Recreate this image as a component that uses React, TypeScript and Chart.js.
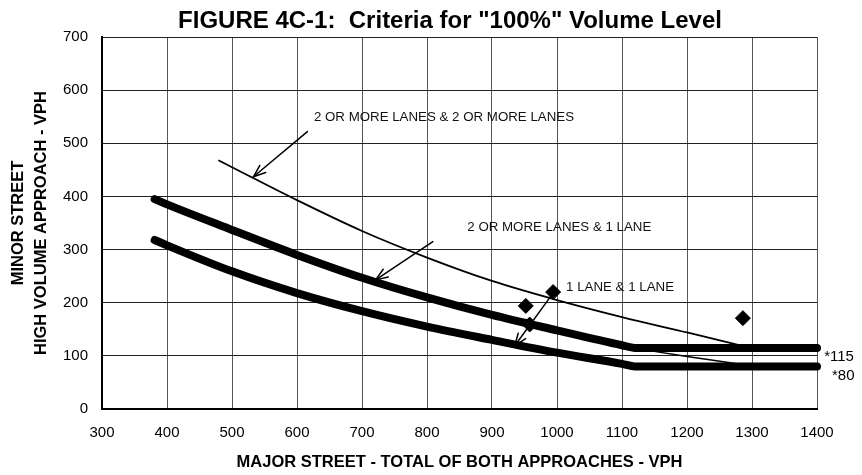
import React, { useEffect, useRef } from 'react';
import { Chart, registerables } from 'chart.js';

Chart.register(...registerables);

const FONT = '"Liberation Sans", Arial, Helvetica, sans-serif';

// Axis ranges / ticks
const xMin = 300;
const xMax = 1400;
const xStep = 100;
const yMin = 0;
const yMax = 700;
const yStep = 100;

// Thick curve: 2 OR MORE LANES & 1 LANE (lower threshold *115)
const upperX = [381, 400, 500, 600, 700, 800, 900, 1000, 1100, 1120, 1400];
const upperY = [395, 385, 337, 290, 247, 210, 177, 148, 120, 115, 115];

// Thick curve: 1 LANE & 1 LANE (lower threshold *80)
const lowerX = [381, 400, 500, 600, 700, 800, 900, 1000, 1100, 1120, 1400];
const lowerY = [318, 308, 259, 218, 184, 155, 130, 106, 85, 80, 80];

// Thin curve: 2 OR MORE LANES & 2 OR MORE LANES
const thinX = [479, 500, 600, 700, 800, 900, 1000, 1100, 1200, 1285];
const thinY = [468, 455, 393, 335, 285, 241, 205, 173, 144, 119];

// Thin continuation toward the 80 line
const tailX = [1110, 1200, 1300];
const tailY = [116, 99, 81];

// Diamond points
const pointsX = [952, 994, 958, 1286];
const pointsY = [194, 220, 159, 171];

// Annotation arrows (tail -> head)
const arrowTailX = [616, 809, 994];
const arrowTailY = [522, 315, 218];
const arrowHeadX = [533, 721, 935];
const arrowHeadY = [437, 243, 119];

// Annotation labels (left edge, vertical centre)
const labelTexts = [
  '2 OR MORE LANES & 2 OR MORE LANES',
  '2 OR MORE LANES & 1 LANE',
  '1 LANE & 1 LANE',
];
const labelX = [626, 862, 1014];
const labelY = [549, 342, 229];

// Threshold notes at the right
const noteTexts = ['*115', '*80'];
const noteX = [1411, 1423];
const noteY = [98, 62];

const titleText = 'FIGURE 4C-1:  Criteria for "100%" Volume Level';
const xTitle = 'MAJOR STREET - TOTAL OF BOTH APPROACHES - VPH';
const yTitle = ['MINOR STREET', 'HIGH VOLUME APPROACH - VPH'];

const toXY = (xs: number[], ys: number[]) => xs.map((v, i) => ({ x: v, y: ys[i] }));

const decorPlugin = {
  id: 'decor',
  afterDatasetsDraw(chart: any) {
    const { ctx, scales } = chart;
    const sx = scales.x;
    const sy = scales.y;
    ctx.save();
    ctx.strokeStyle = '#000';
    ctx.lineWidth = 1.5;
    ctx.lineCap = 'round';
    ctx.lineJoin = 'round';
    for (let i = 0; i < arrowTailX.length; i++) {
      const x1 = sx.getPixelForValue(arrowTailX[i]);
      const y1 = sy.getPixelForValue(arrowTailY[i]);
      const x2 = sx.getPixelForValue(arrowHeadX[i]);
      const y2 = sy.getPixelForValue(arrowHeadY[i]);
      ctx.beginPath();
      ctx.moveTo(x1, y1);
      ctx.lineTo(x2, y2);
      ctx.stroke();
      const ang = Math.atan2(y2 - y1, x2 - x1);
      const L = 13;
      const A = 0.36;
      ctx.beginPath();
      ctx.moveTo(x2 - L * Math.cos(ang - A), y2 - L * Math.sin(ang - A));
      ctx.lineTo(x2, y2);
      ctx.lineTo(x2 - L * Math.cos(ang + A), y2 - L * Math.sin(ang + A));
      ctx.stroke();
    }
    ctx.restore();
  },
  afterDraw(chart: any) {
    const { ctx, scales } = chart;
    const sx = scales.x;
    const sy = scales.y;
    ctx.save();
    ctx.fillStyle = '#000';
    // title
    ctx.font = `bold 24px ${FONT}`;
    ctx.textAlign = 'center';
    ctx.textBaseline = 'alphabetic';
    ctx.fillText(titleText, 450, 28);
    // labels
    ctx.font = `13.3px ${FONT}`;
    ctx.textAlign = 'left';
    ctx.textBaseline = 'middle';
    ctx.fillStyle = '#111';
    for (let i = 0; i < labelTexts.length; i++) {
      ctx.fillText(labelTexts[i], sx.getPixelForValue(labelX[i]), sy.getPixelForValue(labelY[i]));
    }
    ctx.font = `15px ${FONT}`;
    ctx.fillStyle = '#000';
    for (let i = 0; i < noteTexts.length; i++) {
      ctx.fillText(noteTexts[i], sx.getPixelForValue(noteX[i]), sy.getPixelForValue(noteY[i]));
    }
    ctx.restore();
  },
};

export default function App() {
  const ref = useRef<HTMLCanvasElement | null>(null);

  useEffect(() => {
    if (!ref.current) return;
    const thick = {
      borderColor: '#000',
      borderWidth: 8,
      pointRadius: 0,
      borderCapStyle: 'round',
      borderJoinStyle: 'round',
      cubicInterpolationMode: 'monotone',
      tension: 0.4,
      fill: false,
      clip: false,
    };
    const chart = new Chart(ref.current, {
      type: 'line',
      data: {
        datasets: [
          { label: '2 OR MORE LANES & 1 LANE', data: toXY(upperX, upperY), ...thick } as any,
          { label: '1 LANE & 1 LANE', data: toXY(lowerX, lowerY), ...thick } as any,
          {
            label: '2 OR MORE LANES & 2 OR MORE LANES',
            data: toXY(thinX, thinY),
            borderColor: '#000',
            borderWidth: 1.8,
            pointRadius: 0,
            cubicInterpolationMode: 'monotone',
            tension: 0.4,
            fill: false,
          } as any,
          {
            label: 'tail',
            data: toXY(tailX, tailY),
            borderColor: '#000',
            borderWidth: 1.5,
            pointRadius: 0,
            cubicInterpolationMode: 'monotone',
            tension: 0.4,
            fill: false,
          } as any,
          {
            label: 'points',
            data: toXY(pointsX, pointsY),
            showLine: false,
            pointStyle: 'rectRot',
            pointRadius: 7.5,
            backgroundColor: '#000',
            borderColor: '#000',
            borderWidth: 1,
          } as any,
        ],
      },
      options: {
        animation: false,
        responsive: true,
        maintainAspectRatio: false,
        layout: { padding: { left: 0, right: 45, top: 37, bottom: 0 } },
        plugins: {
          legend: { display: false },
          tooltip: { enabled: false },
          title: { display: false },
        },
        scales: {
          x: {
            type: 'linear',
            min: xMin,
            max: xMax,
            ticks: {
              stepSize: xStep,
              padding: 15,
              color: '#000',
              font: { size: 15, family: FONT },
              callback: (v: any) => String(v),
            },
            grid: { color: '#555', lineWidth: 1, drawTicks: false },
            border: { color: '#000', width: 2 },
            title: {
              display: true,
              text: xTitle,
              color: '#000',
              font: { size: 16.5, weight: 'bold', family: FONT, lineHeight: 1.2 },
              padding: { top: 0, bottom: 3 },
            },
            afterFit(s: any) {
              s.height = 66;
            },
          },
          y: {
            type: 'linear',
            min: yMin,
            max: yMax,
            ticks: {
              stepSize: yStep,
              padding: 14,
              color: '#000',
              font: { size: 15, family: FONT },
              callback: (v: any) => String(v),
            },
            grid: { color: '#222', lineWidth: 1, drawTicks: false },
            border: { color: '#000', width: 2 },
            title: {
              display: true,
              text: yTitle,
              color: '#000',
              font: { size: 16.5, weight: 'bold', family: FONT, lineHeight: 1.375 },
              padding: { top: 7.6, bottom: 0 },
            },
            afterFit(s: any) {
              s.width = 102;
            },
          },
        },
      } as any,
      plugins: [decorPlugin],
    });
    return () => chart.destroy();
  }, []);

  return (
    <div style={{ position: 'absolute', left: 0, top: 0, width: 862, height: 475, background: '#fff' }}>
      <canvas ref={ref} />
    </div>
  );
}
